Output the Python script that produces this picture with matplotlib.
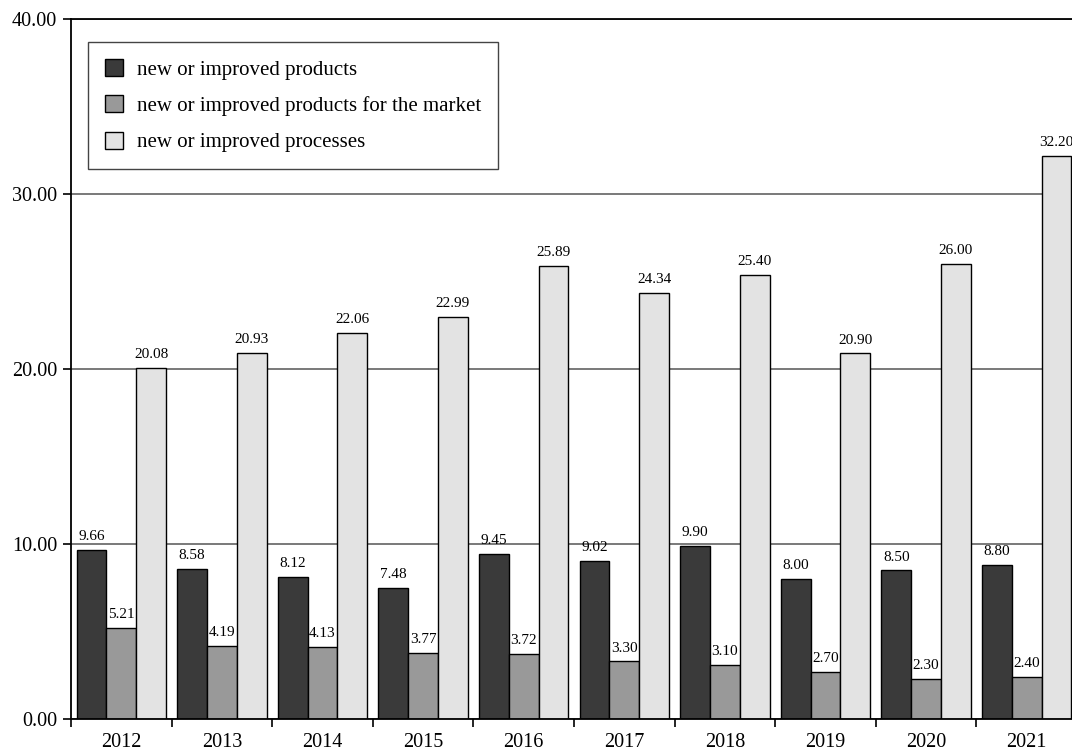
import matplotlib
matplotlib.use("Agg")
from matplotlib import pyplot as plt
from matplotlib.ticker import FormatStrFormatter
import numpy as np

years = ["2012", "2013", "2014", "2015", "2016", "2017", "2018", "2019", "2020", "2021"]
products = [9.66, 8.58, 8.12, 7.48, 9.45, 9.02, 9.90, 8.00, 8.50, 8.80]
products_market = [5.21, 4.19, 4.13, 3.77, 3.72, 3.30, 3.10, 2.70, 2.30, 2.40]
processes = [20.08, 20.93, 22.06, 22.99, 25.89, 24.34, 25.40, 20.90, 26.00, 32.20]

series_names = ["new or improved products",
                "new or improved products for the market",
                "new or improved processes"]
colors = ["#3a3a3a", "#999999", "#e3e3e3"]

plt.rcParams['font.family'] = ['Liberation Serif', 'DejaVu Serif']

fig = plt.figure(figsize=(10.72, 7.51), dpi=100)
ax = fig.add_axes([71 / 1072, 1 - 719 / 751, 1006 / 1072, 700 / 751])

x = np.arange(len(years))
w = 0.296
for k, vals in enumerate([products, products_market, processes]):
    pos = x + (k - 1) * w
    ax.bar(pos, vals, width=w, color=colors[k], edgecolor="black",
           linewidth=1.0, label=series_names[k], zorder=2)
    for px, v in zip(pos, vals):
        ax.annotate(f"{v:.2f}", (px, v), xytext=(0, 7), textcoords="offset points",
                    ha="center", va="baseline", fontsize=11, zorder=4)

ax.set_xlim(-0.5, len(years) - 0.5)
ax.set_ylim(0, 40)
ax.set_yticks([0, 10, 20, 30, 40])
ax.yaxis.set_major_formatter(FormatStrFormatter('%.2f'))
ax.yaxis.grid(True, color="#6e6e6e", linewidth=1.3, zorder=1)
ax.set_axisbelow(True)

# ticks between groups, labels under groups
ax.set_xticks(np.arange(len(years) + 1) - 0.5)
ax.set_xticklabels([])
ax.set_xticks(x, minor=True)
ax.set_xticklabels(years, minor=True)
ax.tick_params(axis="x", which="minor", length=0, labelsize=14.5, pad=10)
ax.tick_params(axis="x", which="major", length=6, width=1.2, direction="out")
ax.tick_params(axis="y", length=6, width=1.2, labelsize=14.5, pad=4)

ax.spines["right"].set_visible(False)
for s in ["left", "bottom", "top"]:
    ax.spines[s].set_linewidth(1.3)

leg = ax.legend(loc="upper left", bbox_to_anchor=(17 / 1006, 1 - 23 / 700),
                borderaxespad=0, fontsize=15, frameon=True, fancybox=False,
                framealpha=1, edgecolor="#444444", borderpad=0.8,
                labelspacing=0.75, handlelength=0.9, handleheight=0.9,
                handletextpad=0.65)
leg.get_frame().set_linewidth(1.0)

fig.savefig("out.png", dpi=100)
